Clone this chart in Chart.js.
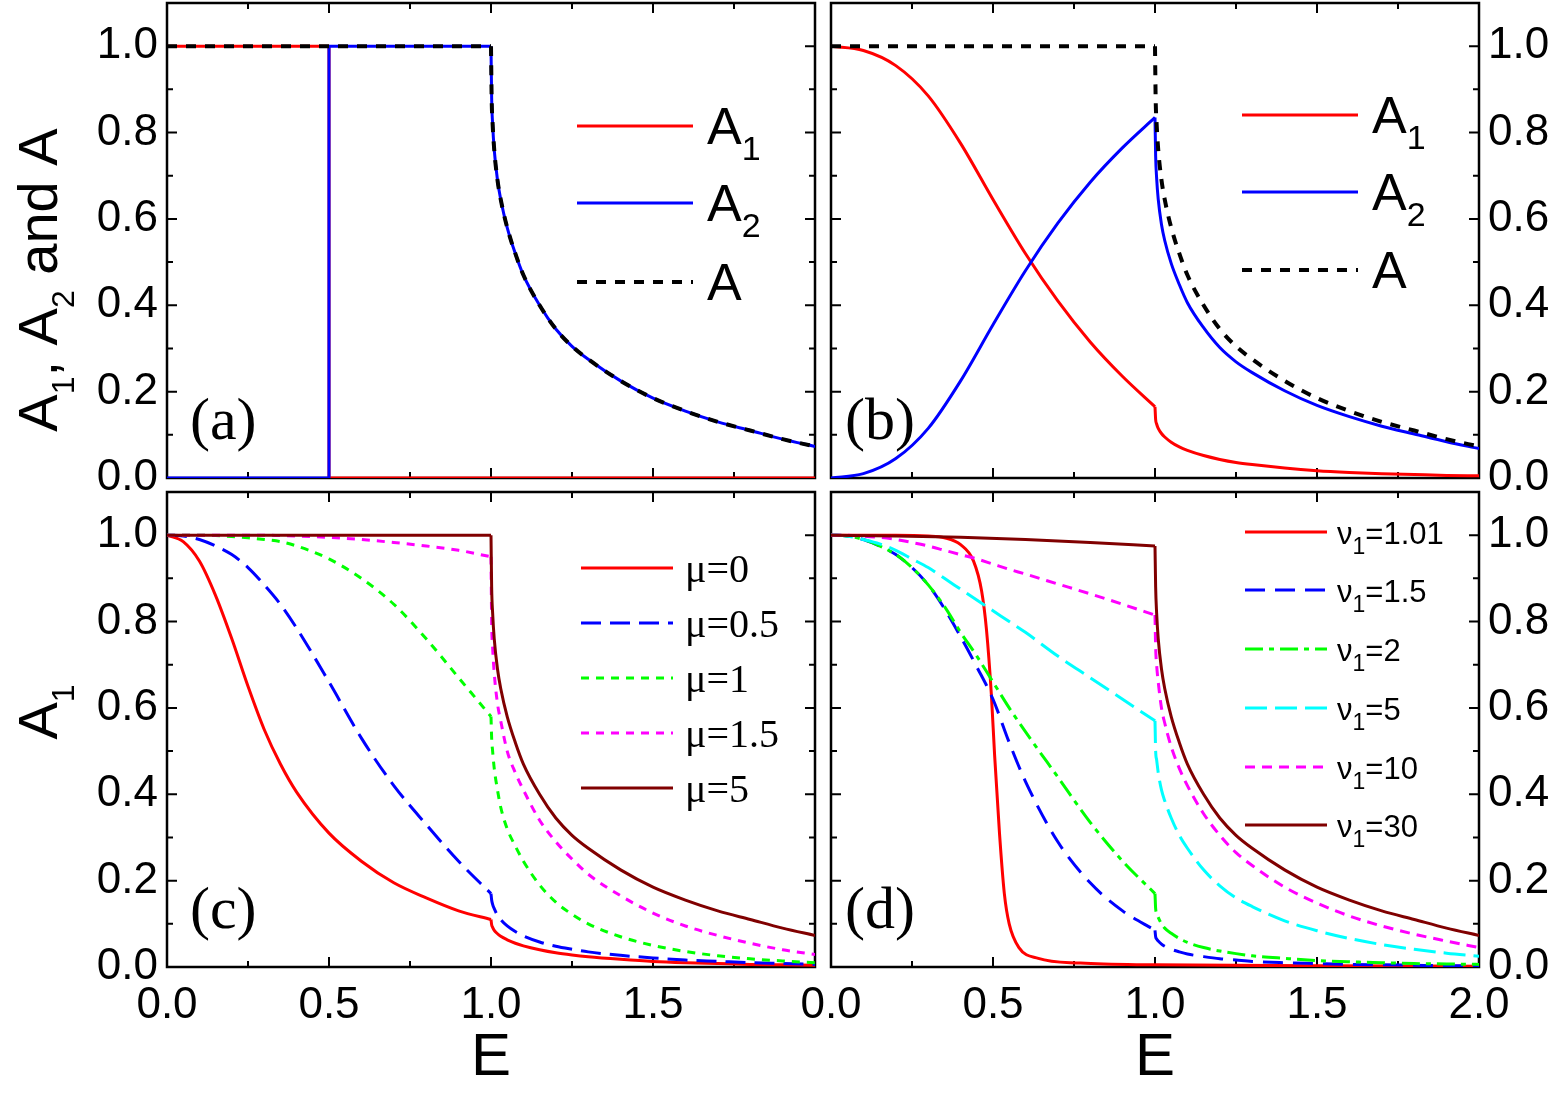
<!DOCTYPE html>
<html><head><meta charset="utf-8">
<script src="https://cdn.jsdelivr.net/npm/chart.js@4.4.1/dist/chart.umd.min.js"></script>
<style>
html,body{margin:0;padding:0;background:#fff;overflow:hidden}
#wrap{position:relative;width:1557px;height:1094px;background:#fff}
#wrap canvas{position:absolute;left:0;top:0}
</style></head><body>
<div id="wrap">
<canvas id="ca" width="1557" height="1094"></canvas>
<canvas id="cb" width="1557" height="1094"></canvas>
<canvas id="cc" width="1557" height="1094"></canvas>
<canvas id="cd" width="1557" height="1094"></canvas>
</div>
<script>
// ---------------- tick values ----------------
const xMajor = [0, 0.5, 1.0, 1.5, 2.0];
const xMinor = [0.25, 0.75, 1.25, 1.75];
const yMajor = [0, 0.2, 0.4, 0.6, 0.8, 1.0];
const yMinor = [0.1, 0.3, 0.5, 0.7, 0.9];

// ---------------- shared E grid after the threshold E=1 ----------------
const afterE = [1.002, 1.005, 1.01, 1.02, 1.03, 1.05, 1.075, 1.1, 1.15, 1.2, 1.25, 1.3, 1.4, 1.5, 1.6, 1.7, 1.8, 1.9, 2.0];
const totalAfter = [0.88, 0.82, 0.76, 0.69, 0.645, 0.58, 0.52, 0.47, 0.40, 0.345, 0.305, 0.275, 0.225, 0.185, 0.155, 0.13, 0.11, 0.09, 0.073];
const stepE = [0, 1.0];
const stepA = [1, 1];

// ---------------- panel (a) ----------------
const aA1E = [0, 0.5, 0.5, 2.0];
const aA1  = [1, 1, 0, 0];
const aA2E = [0, 0.5, 0.5, 1.0];
const aA2  = [0, 0, 1, 1];

// ---------------- panel (b) ----------------
const bPreE    = [0, 0.1, 0.2, 0.3, 0.4, 0.5, 0.6, 0.7, 0.8, 0.9, 1.0];
const bA1Pre   = [1, 0.99, 0.955, 0.885, 0.775, 0.645, 0.52, 0.41, 0.315, 0.235, 0.165];
const bA2Pre   = [0, 0.01, 0.045, 0.115, 0.225, 0.355, 0.48, 0.59, 0.685, 0.765, 0.835];
const bA1After = [0.135, 0.125, 0.115, 0.103, 0.095, 0.083, 0.072, 0.064, 0.052, 0.043, 0.036, 0.031, 0.023, 0.017, 0.013, 0.01, 0.008, 0.006, 0.005];
const bA2After = [0.745, 0.695, 0.645, 0.587, 0.55, 0.497, 0.448, 0.406, 0.348, 0.302, 0.269, 0.244, 0.202, 0.168, 0.142, 0.12, 0.102, 0.084, 0.068];

// ---------------- panel (c) ----------------
const cPreE      = [0, 0.05, 0.1, 0.15, 0.2, 0.25, 0.3, 0.35, 0.4, 0.5, 0.6, 0.7, 0.8, 0.9, 1.0];
const cMu0Pre    = [1, 0.985, 0.94, 0.86, 0.76, 0.65, 0.55, 0.47, 0.405, 0.31, 0.245, 0.195, 0.16, 0.13, 0.11];
const cMu0After  = [0.098, 0.092, 0.085, 0.077, 0.071, 0.063, 0.055, 0.049, 0.04, 0.033, 0.028, 0.024, 0.018, 0.013, 0.01, 0.008, 0.006, 0.005, 0.004];
const cMu05Pre   = [1, 0.998, 0.99, 0.975, 0.955, 0.925, 0.885, 0.84, 0.785, 0.66, 0.53, 0.42, 0.33, 0.245, 0.17];
const cMu05After = [0.155, 0.145, 0.135, 0.12, 0.11, 0.095, 0.082, 0.072, 0.058, 0.048, 0.041, 0.035, 0.027, 0.021, 0.016, 0.013, 0.01, 0.008, 0.006];
const cMu1Pre    = [1, 1, 1, 0.999, 0.997, 0.994, 0.99, 0.985, 0.975, 0.945, 0.9, 0.84, 0.76, 0.67, 0.58];
const cMu1After  = [0.53, 0.5, 0.46, 0.41, 0.37, 0.32, 0.28, 0.245, 0.19, 0.15, 0.122, 0.1, 0.07, 0.05, 0.036, 0.026, 0.019, 0.014, 0.01];
const cMu15Pre   = [1, 1, 1, 1, 1, 1, 1, 0.999, 0.998, 0.995, 0.99, 0.983, 0.975, 0.965, 0.95];
const cMu15After = [0.8, 0.74, 0.68, 0.61, 0.57, 0.5, 0.45, 0.41, 0.34, 0.29, 0.25, 0.215, 0.165, 0.125, 0.095, 0.073, 0.055, 0.04, 0.029];

// ---------------- panel (d) ----------------
const dPreE       = [0, 0.05, 0.1, 0.15, 0.2, 0.25, 0.3, 0.35, 0.4, 0.45, 0.5, 0.55, 0.6, 0.7, 0.8, 0.9, 1.0];
const dNu101E     = [0, 0.2, 0.3, 0.35, 0.4, 0.44, 0.465, 0.48, 0.495, 0.505, 0.52, 0.535, 0.55, 0.58, 0.64, 0.77, 1.0, 1.5, 2.0];
const dNu101      = [1, 1, 0.998, 0.994, 0.978, 0.94, 0.87, 0.78, 0.63, 0.49, 0.31, 0.17, 0.1, 0.045, 0.02, 0.009, 0.005, 0.003, 0.002];
const dNu15Pre    = [1, 0.998, 0.99, 0.975, 0.955, 0.925, 0.885, 0.83, 0.765, 0.695, 0.62, 0.52, 0.43, 0.29, 0.195, 0.13, 0.085];
const dNu15After  = [0.07, 0.065, 0.06, 0.053, 0.048, 0.041, 0.035, 0.03, 0.024, 0.019, 0.016, 0.013, 0.01, 0.008, 0.006, 0.005, 0.004, 0.003, 0.003];
const dNu2Pre     = [1, 0.998, 0.99, 0.975, 0.955, 0.925, 0.885, 0.835, 0.775, 0.72, 0.66, 0.6, 0.545, 0.44, 0.335, 0.245, 0.17];
const dNu2After   = [0.135, 0.125, 0.115, 0.1, 0.09, 0.078, 0.066, 0.057, 0.045, 0.037, 0.031, 0.026, 0.02, 0.015, 0.012, 0.01, 0.008, 0.007, 0.006];
const dNu5Pre     = [1, 0.998, 0.99, 0.98, 0.965, 0.945, 0.925, 0.9, 0.875, 0.85, 0.825, 0.8, 0.775, 0.72, 0.67, 0.62, 0.57];
const dNu5After   = [0.5, 0.48, 0.45, 0.41, 0.385, 0.345, 0.305, 0.275, 0.225, 0.188, 0.16, 0.14, 0.107, 0.084, 0.066, 0.052, 0.041, 0.032, 0.025];
const dNu10Pre    = [1, 1, 0.998, 0.995, 0.99, 0.983, 0.975, 0.965, 0.955, 0.945, 0.933, 0.921, 0.91, 0.887, 0.864, 0.84, 0.815];
const dNu10After  = [0.74, 0.7, 0.66, 0.6, 0.565, 0.51, 0.46, 0.42, 0.355, 0.305, 0.265, 0.235, 0.185, 0.148, 0.118, 0.095, 0.076, 0.06, 0.045];
const dNu30E      = [0, 0.2, 0.4, 0.6, 0.8, 1.0];
const dNu30Pre    = [1, 0.998, 0.995, 0.99, 0.983, 0.975];

// ---------------- helpers ----------------
const SANS = '"Liberation Sans", Arial, sans-serif';
const SERIF = '"Liberation Serif", "Times New Roman", serif';
const pts = (xs, ys) => xs.map((x, i) => ({x: x, y: ys[i]}));
function ds(label, data, color, width, dash, smooth, noLegend) {
  return {label, data, borderColor: color, backgroundColor: color,
    borderWidth: width, borderDash: dash || [], pointRadius: 0, pointHoverRadius: 0,
    showLine: true, fill: false, borderJoinStyle: 'round', noLegend: !!noLegend,
    cubicInterpolationMode: smooth ? 'monotone' : 'default', tension: 0};
}
// one curve drawn as two smooth pieces: before the threshold, then the drop and the tail
function curve(label, preX, preY, postX, postY, color, width, dash, preSmooth) {
  const pre = pts(preX, preY);
  const post = [pre[pre.length - 1]].concat(pts(postX, postY));
  return [ds(label, pre, color, width, dash, preSmooth !== false, false),
          ds(label, post, color, width, dash, true, true)];
}
// later datasets are painted on top of earlier ones
const layered = list => list.map((d, i) => Object.assign(d, {order: -i}));

function richText(ctx, text, x, base, font, subFont, subShift, align) {
  const runs = [];
  for (const ch of text) {
    const c = ch.codePointAt(0);
    const isSub = c >= 0x2080 && c <= 0x2089;
    const s = isSub ? String.fromCharCode(48 + c - 0x2080) : ch;
    if (runs.length && runs[runs.length - 1].sub === isSub) runs[runs.length - 1].t += s;
    else runs.push({t: s, sub: isSub});
  }
  let total = 0;
  runs.forEach(r => { ctx.font = r.sub ? subFont : font; r.w = ctx.measureText(r.t).width; total += r.w; });
  let cx = align === 'center' ? x - total / 2 : x;
  ctx.textAlign = 'left'; ctx.textBaseline = 'alphabetic'; ctx.fillStyle = '#000';
  runs.forEach(r => { ctx.font = r.sub ? subFont : font; ctx.fillText(r.t, cx, base + (r.sub ? subShift : 0)); cx += r.w; });
}

const frameTicks = {
  id: 'frameTicks',
  beforeDatasetsDraw(chart) {
    const {ctx, chartArea: a, scales: {x, y}} = chart;
    ctx.save();
    ctx.strokeStyle = '#000'; ctx.lineWidth = 2; ctx.setLineDash([]);
    ctx.beginPath();
    const xt = (vals, len) => vals.forEach(v => { const px = x.getPixelForValue(v);
      ctx.moveTo(px, a.bottom); ctx.lineTo(px, a.bottom - len); ctx.moveTo(px, a.top); ctx.lineTo(px, a.top + len); });
    const yt = (vals, len) => vals.forEach(v => { const py = y.getPixelForValue(v);
      ctx.moveTo(a.left, py); ctx.lineTo(a.left + len, py); ctx.moveTo(a.right, py); ctx.lineTo(a.right - len, py); });
    xt(xMajor, 10); xt(xMinor, 6); yt(yMajor, 10); yt(yMinor, 6);
    ctx.stroke();
    ctx.lineWidth = 2.5;
    ctx.strokeRect(a.left, a.top, a.right - a.left, a.bottom - a.top);
    ctx.restore();
  }
};

const deco = {
  id: 'deco',
  afterDatasetsDraw(chart, args, o) {
    const ctx = chart.ctx;
    ctx.save();
    if (o.legend) {
      const L = o.legend;
      chart.data.datasets.filter(d => !d.noLegend).forEach((d, i) => {
        const y = L.ys[i];
        ctx.save();
        ctx.strokeStyle = d.borderColor; ctx.lineWidth = d.borderWidth;
        ctx.setLineDash(d.borderDash || []);
        ctx.beginPath(); ctx.moveTo(L.x0, y); ctx.lineTo(L.x1, y); ctx.stroke();
        ctx.restore();
        richText(ctx, d.label, L.tx, y + L.dy, L.font, L.sub, L.sdy, 'left');
      });
    }
    if (o.tag) richText(ctx, o.tag.text, o.tag.x, o.tag.y, '60px ' + SERIF, '60px ' + SERIF, 0, 'left');
    (o.titles || []).forEach(t => {
      ctx.save();
      ctx.translate(t.x, t.y);
      if (t.rot) ctx.rotate(-Math.PI / 2);
      richText(ctx, t.text, 0, 0, t.font, t.sub || t.font, t.sdy || 0, 'center');
      ctx.restore();
    });
    ctx.restore();
  }
};

function scales(p) {
  const tickFont = {family: SANS, size: 44};
  return {
    x: {type: 'linear', min: 0, max: 2, display: p.showX, position: 'bottom',
      afterBuildTicks: s => { s.ticks = xMajor.map(v => ({value: v})); },
      afterFit: s => { s.height = p.showX ? 127 : 0; s.paddingLeft = 0; s.paddingRight = 0; },
      grid: {display: false, drawTicks: false}, border: {display: false},
      ticks: {font: tickFont, color: '#000', padding: 12, maxRotation: 0, minRotation: 0, autoSkip: false,
        callback: v => (p.hideLastX && v === 2) ? '' : v.toFixed(1)}},
    y: {type: 'linear', min: 0, max: 1.1, display: true, position: p.yPos,
      afterBuildTicks: s => { s.ticks = yMajor.map(v => ({value: v})); },
      afterFit: s => { s.width = p.yPos === 'left' ? 167 : 78; s.paddingTop = 0; s.paddingBottom = 0; },
      grid: {display: false, drawTicks: false}, border: {display: false},
      ticks: {font: tickFont, color: '#000', padding: 9, autoSkip: false, callback: v => v.toFixed(1)}}
  };
}

// ---------------- panels ----------------
const panels = [
  {id: 'ca', pad: {left: 0, top: 3, right: 742, bottom: 616}, yPos: 'left', showX: false,
    datasets: [
      ds('A₁', pts(aA1E, aA1), '#ff0000', 3, [], false, false),
      ...curve('A₂', aA2E, aA2, afterE, totalAfter, '#0000ff', 3, [], false),
      ...curve('A', stepE, stepA, afterE, totalAfter, '#000000', 4, [10, 9], false)
    ],
    deco: {legend: {x0: 577, x1: 693, tx: 707, ys: [126, 203, 282], dy: 18, sdy: 16, font: '52px ' + SANS, sub: '34px ' + SANS},
      tag: {text: '(a)', x: 190, y: 439},
      titles: [{text: 'A₁, A₂ and A', x: 57, y: 280, rot: true, font: '56px ' + SANS, sub: '32px ' + SANS, sdy: 17}]}},
  {id: 'cb', pad: {left: 831, top: 3, right: 0, bottom: 616}, yPos: 'right', showX: false,
    datasets: [
      ...curve('A₁', bPreE, bA1Pre, afterE, bA1After, '#ff0000', 3),
      ...curve('A₂', bPreE, bA2Pre, afterE, bA2After, '#0000ff', 3),
      ...curve('A', stepE, stepA, afterE, totalAfter, '#000000', 4, [10, 9], false)
    ],
    deco: {legend: {x0: 1242, x1: 1358, tx: 1372, ys: [115, 192, 270], dy: 18, sdy: 16, font: '52px ' + SANS, sub: '34px ' + SANS},
      tag: {text: '(b)', x: 845, y: 439}}},
  {id: 'cc', pad: {left: 0, top: 492, right: 742, bottom: 0}, yPos: 'left', showX: true, hideLastX: true,
    datasets: [
      ...curve('μ=0', cPreE, cMu0Pre, afterE, cMu0After, '#ff0000', 3),
      ...curve('μ=0.5', cPreE, cMu05Pre, afterE, cMu05After, '#0000ff', 3, [20, 9]),
      ...curve('μ=1', cPreE, cMu1Pre, afterE, cMu1After, '#00ff00', 3, [8, 7]),
      ...curve('μ=1.5', cPreE, cMu15Pre, afterE, cMu15After, '#ff00ff', 3, [8, 7]),
      ...curve('μ=5', stepE, stepA, afterE, totalAfter, '#800000', 3, [], false)
    ],
    deco: {legend: {x0: 581, x1: 673, tx: 685, ys: [568, 623, 678, 733, 788], dy: 14, sdy: 0, font: '40px ' + SERIF, sub: '40px ' + SERIF},
      tag: {text: '(c)', x: 190, y: 928},
      titles: [{text: 'A₁', x: 57, y: 712, rot: true, font: '56px ' + SANS, sub: '32px ' + SANS, sdy: 17},
               {text: 'E', x: 491, y: 1075, rot: false, font: '60px ' + SANS}]}},
  {id: 'cd', pad: {left: 831, top: 492, right: 0, bottom: 0}, yPos: 'right', showX: true,
    datasets: [
      ds('ν₁=1.01', pts(dNu101E, dNu101), '#ff0000', 3, [], true, false),
      ...curve('ν₁=1.5', dPreE, dNu15Pre, afterE, dNu15After, '#0000ff', 3, [20, 10]),
      ...curve('ν₁=2', dPreE, dNu2Pre, afterE, dNu2After, '#00ff00', 3, [18, 6, 5, 6]),
      ...curve('ν₁=5', dPreE, dNu5Pre, afterE, dNu5After, '#00ffff', 3, [22, 8]),
      ...curve('ν₁=10', dPreE, dNu10Pre, afterE, dNu10After, '#ff00ff', 3, [10, 7]),
      ...curve('ν₁=30', dNu30E, dNu30Pre, afterE, totalAfter, '#800000', 3)
    ],
    deco: {legend: {x0: 1245, x1: 1327, tx: 1337, ys: [532, 590, 649, 708, 767, 825], dy: 12, sdy: 10, font: '31px ' + SANS, sub: '23px ' + SANS},
      tag: {text: '(d)', x: 845, y: 928},
      titles: [{text: 'E', x: 1155, y: 1075, rot: false, font: '60px ' + SANS}]}}
];

panels.forEach(p => {
  new Chart(document.getElementById(p.id), {
    type: 'scatter',
    data: {datasets: layered(p.datasets)},
    options: {
      responsive: false, animation: false, events: [],
      layout: {padding: p.pad},
      plugins: {legend: {display: false}, tooltip: {enabled: false}, deco: p.deco},
      scales: scales(p)
    },
    plugins: [frameTicks, deco]
  });
});
</script>
</body></html>
